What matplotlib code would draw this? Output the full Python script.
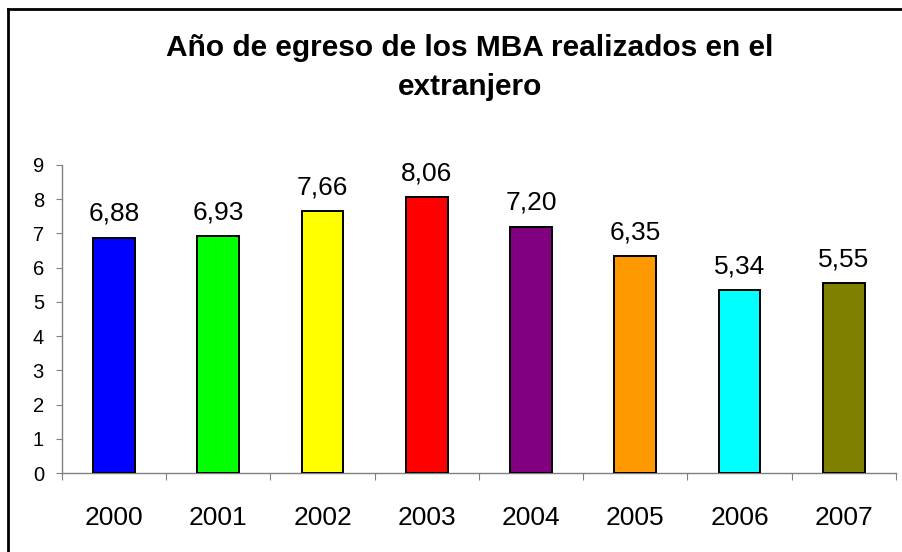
import matplotlib.pyplot as plt
import numpy as np
from matplotlib.lines import Line2D

plt.rcParams['font.family'] = ['Liberation Sans', 'DejaVu Sans']

# Datos
anios   = ['2000', '2001', '2002', '2003', '2004', '2005', '2006', '2007']
valores = [6.88, 6.93, 7.66, 8.06, 7.20, 6.35, 5.34, 5.55]
colores = ['#0000FF', '#00FF00', '#FFFF00', '#FF0000', '#800080', '#FF9900', '#00FFFF', '#808000']
titulo  = 'Año de egreso de los MBA realizados en el\nextranjero'

fig = plt.figure(figsize=(9.02, 5.52), dpi=100)
ax = fig.add_axes([0.0687, 0.1431, 0.9246, 0.558])

x = np.arange(len(anios))
ax.bar(x, valores, width=0.4, color=colores, edgecolor='k', linewidth=1.4, zorder=3)
for xi, v in zip(x, valores):
    ax.annotate(f'{v:.2f}'.replace('.', ','), (xi, v), xytext=(0, 12), textcoords='offset points',
                ha='center', va='baseline', fontsize=19)

ax.set_xlim(-0.5, len(anios) - 0.5)
ax.set_ylim(0, 9)
ax.set_yticks(range(10))

# ticks del eje X en los límites de categoría, etiquetas al centro
ax.set_xticks(np.arange(-0.5, len(anios), 1))
ax.set_xticklabels([])
ax.set_xticks(x, minor=True)
ax.set_xticklabels(anios, minor=True)
ax.tick_params(axis='x', which='major', length=5, color='#808080', direction='out')
ax.tick_params(axis='x', which='minor', length=0, pad=24, labelsize=19)
ax.tick_params(axis='y', length=4, color='#808080', pad=9, labelsize=14.5)

for s in ['top', 'right']:
    ax.spines[s].set_visible(False)
for s in ['left', 'bottom']:
    ax.spines[s].set_color('#808080')
    ax.spines[s].set_linewidth(1.0)

fig.text(0.521, 0.878, titulo, ha='center', va='center', fontsize=21.5,
         fontweight='bold', linespacing=1.5)

# marco del gráfico
fig.add_artist(Line2D([8/902, 8/902], [0, 1 - 9/552], transform=fig.transFigure, color='k', lw=2))
fig.add_artist(Line2D([8/902, 1], [1 - 9/552, 1 - 9/552], transform=fig.transFigure, color='k', lw=2))

fig.savefig('out.png', dpi=100)
